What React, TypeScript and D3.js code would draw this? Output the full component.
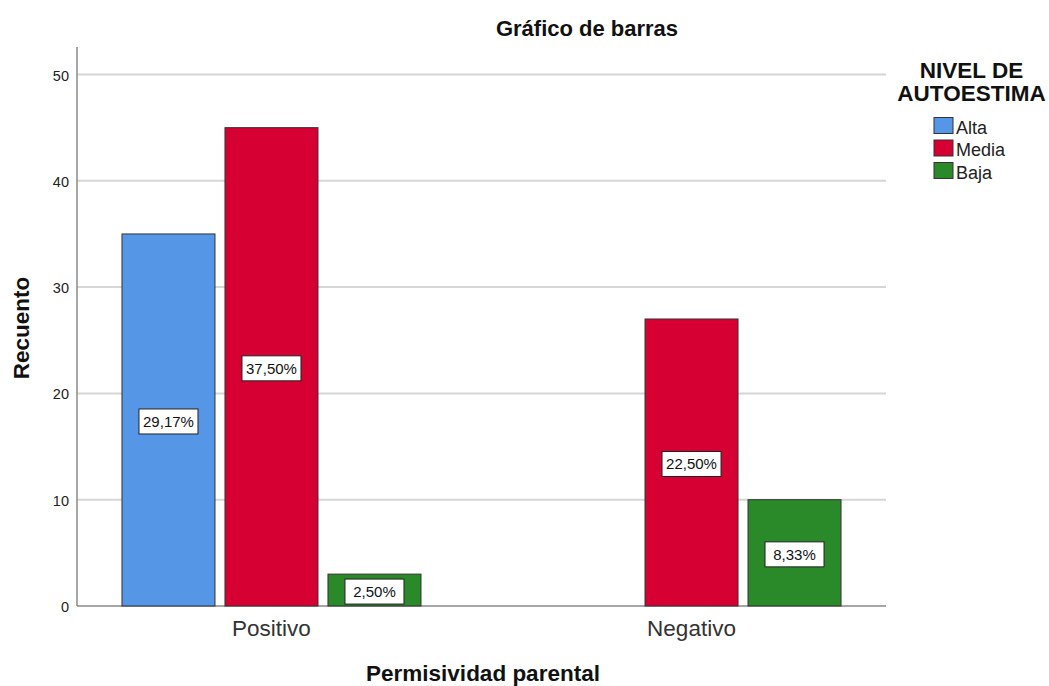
import React from "react";
import * as d3 from "d3";

const categories = ["Positivo", "Negativo"];
const levels = ["Alta", "Media", "Baja"];
const colors = ["#5596e6", "#d60032", "#2a8a2a"];
const altaValues = [35, 0];
const mediaValues = [45, 27];
const bajaValues = [3, 10];
const yTicks = [0, 10, 20, 30, 40, 50];

const W = 1049;
const H = 686;
const left = 77;
const right = 886;
const top = 47;
const bottom = 606;
const FONT = "'Liberation Sans', Arial, sans-serif";

export default function App() {
  const series = [altaValues, mediaValues, bajaValues];
  const total = d3.sum(series.flat());
  const y = d3.scaleLinear().domain([0, 50]).range([bottom, 74.5]);
  const x = d3.scalePoint().domain(categories).range([left, right]).padding(0.463);
  const xInner = d3.scaleBand().domain(levels).range([-149.5, 149.5]).paddingInner(0.097).paddingOuter(0);
  const bw = xInner.bandwidth();
  const fmt = (v: number) => ((v / total) * 100).toFixed(2).replace(".", ",") + "%";

  return (
    <div style={{ position: "fixed", left: 0, top: 0 }}>
      <svg width={W} height={H} style={{ display: "block", background: "#fff" }} fontFamily={FONT}>
        <text x={587} y={36} textAnchor="middle" fontSize={22} fontWeight="bold" fill="#111">Gráfico de barras</text>
        {yTicks.map((t) => (
          <g key={t}>
            {t > 0 && <line x1={left} x2={right} y1={y(t)} y2={y(t)} stroke="#d6d6d6" strokeWidth={2} />}
            <text x={69} y={y(t) + 6} textAnchor="end" fontSize={14.5} fill="#222">{t}</text>
          </g>
        ))}
        <line x1={left} x2={left} y1={top} y2={bottom} stroke="#8a8a8a" strokeWidth={1.5} />
        <line x1={left} x2={right} y1={bottom} y2={bottom} stroke="#8a8a8a" strokeWidth={1.5} />
        {categories.map((c, ci) => (
          <g key={c}>
            {levels.map((lv, li) => {
              const v = series[li][ci];
              if (!v) return null;
              const bx = (x(c) as number) + (xInner(lv) as number);
              const cx = bx + bw / 2;
              const cy = y(v / 2) + 1.5;
              const label = fmt(v);
              return (
                <g key={lv}>
                  <rect x={bx} y={y(v)} width={bw} height={bottom - y(v)} fill={colors[li]} stroke="#333" strokeWidth={1} />
                  <rect x={cx - 29.5} y={cy - 12.5} width={59} height={25} fill="#fff" stroke="#222" strokeWidth={1} />
                  <text x={cx} y={cy + 5.5} textAnchor="middle" fontSize={15} fill="#111">{label}</text>
                </g>
              );
            })}
            <text x={x(c) as number} y={636} textAnchor="middle" fontSize={22.5} fill="#333">{c}</text>
          </g>
        ))}
        <text transform={`translate(29,328) rotate(-90)`} textAnchor="middle" fontSize={22.5} fontWeight="bold" fill="#111">Recuento</text>
        <text x={483} y={681} textAnchor="middle" fontSize={22.5} fontWeight="bold" fill="#111">Permisividad parental</text>
        <text x={971.5} y={78} textAnchor="middle" fontSize={22.5} fontWeight="bold" fill="#111">NIVEL DE</text>
        <text x={971.5} y={101} textAnchor="middle" fontSize={22.5} fontWeight="bold" fill="#111">AUTOESTIMA</text>
        {levels.map((lv, i) => (
          <g key={lv}>
            <rect x={934} y={117.5 + i * 22.5} width={19} height={16} fill={colors[i]} stroke="#333" strokeWidth={1} />
            <text x={956} y={133.5 + i * 22.5} fontSize={18} fill="#222">{lv}</text>
          </g>
        ))}
      </svg>
    </div>
  );
}
